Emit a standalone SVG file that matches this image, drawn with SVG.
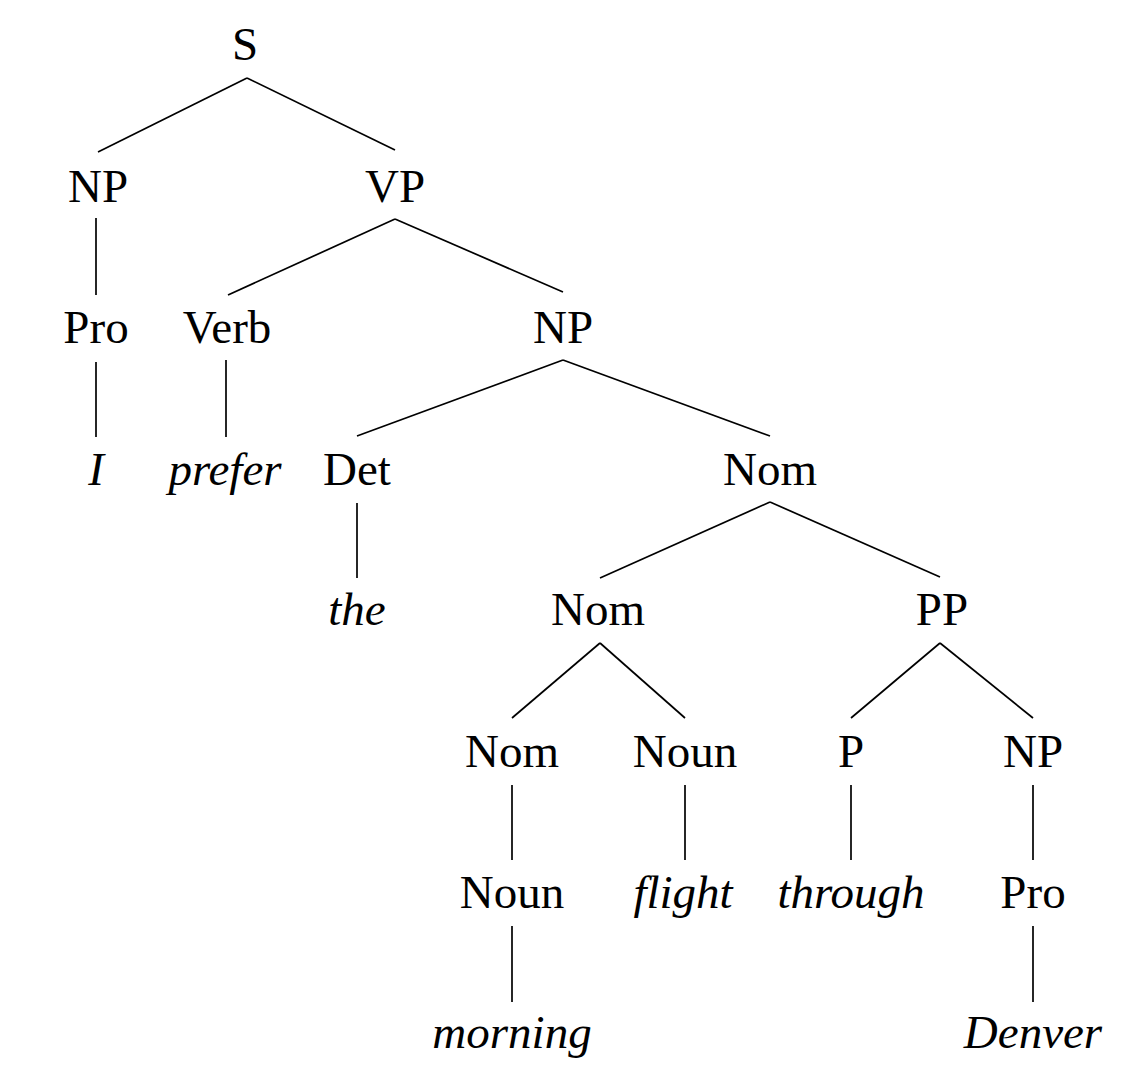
<svg xmlns="http://www.w3.org/2000/svg" width="1147" height="1067" viewBox="0 0 1147 1067">
<style>
text{font-family:"Liberation Serif","Times New Roman",serif;font-size:47px;fill:#000;text-anchor:middle}
.w{font-style:italic}
#edges line{stroke:#000;stroke-width:1.7}
</style>
<rect width="1147" height="1067" fill="#fff"/>
<g id="edges">
<line x1="247" y1="78" x2="98" y2="152"/>
<line x1="247" y1="78" x2="395" y2="150"/>
<line x1="96" y1="218" x2="96" y2="295"/>
<line x1="96" y1="362" x2="96" y2="437"/>
<line x1="395" y1="219" x2="228" y2="295"/>
<line x1="395" y1="219" x2="563" y2="292"/>
<line x1="226" y1="360" x2="226" y2="437"/>
<line x1="563" y1="360" x2="357" y2="436"/>
<line x1="563" y1="360" x2="770" y2="436"/>
<line x1="357" y1="503" x2="357" y2="578"/>
<line x1="770" y1="502" x2="600" y2="578"/>
<line x1="770" y1="502" x2="940" y2="577"/>
<line x1="600" y1="643" x2="512" y2="718"/>
<line x1="600" y1="643" x2="685" y2="718"/>
<line x1="940" y1="643" x2="851" y2="718"/>
<line x1="940" y1="643" x2="1033" y2="718"/>
<line x1="512" y1="785" x2="512" y2="860"/>
<line x1="685" y1="785" x2="685" y2="860"/>
<line x1="851" y1="785" x2="851" y2="860"/>
<line x1="1033" y1="785" x2="1033" y2="860"/>
<line x1="512" y1="926" x2="512" y2="1002"/>
<line x1="1033" y1="926" x2="1033" y2="1002"/>
</g>
<g id="n-S"><text x="245" y="60">S</text></g>
<g id="n-NP1"><text x="98" y="202">NP</text></g>
<g id="n-VP"><text x="395" y="202">VP</text></g>
<g id="n-Pro1"><text x="96" y="343">Pro</text></g>
<g id="n-Verb"><text x="227" y="343">Verb</text></g>
<g id="n-NP2"><text x="563" y="343">NP</text></g>
<g id="n-I"><text class="w" x="96" y="485">I</text></g>
<g id="n-prefer"><text class="w" x="225" y="485">prefer</text></g>
<g id="n-Det"><text x="357" y="485">Det</text></g>
<g id="n-Nom1"><text x="770" y="485">Nom</text></g>
<g id="n-the"><text class="w" x="357" y="625">the</text></g>
<g id="n-Nom2"><text x="598" y="625">Nom</text></g>
<g id="n-PP"><text x="942" y="625">PP</text></g>
<g id="n-Nom3"><text x="512" y="767">Nom</text></g>
<g id="n-Noun1"><text x="685" y="767">Noun</text></g>
<g id="n-P"><text x="851" y="767">P</text></g>
<g id="n-NP3"><text x="1033" y="767">NP</text></g>
<g id="n-Noun2"><text x="512" y="908">Noun</text></g>
<g id="n-flight"><text class="w" x="683" y="908">flight</text></g>
<g id="n-through"><text class="w" x="851" y="908">through</text></g>
<g id="n-Pro2"><text x="1033" y="908">Pro</text></g>
<g id="n-morning"><text class="w" x="512" y="1048">morning</text></g>
<g id="n-Denver"><text class="w" x="1033" y="1048">Denver</text></g>
</svg>
